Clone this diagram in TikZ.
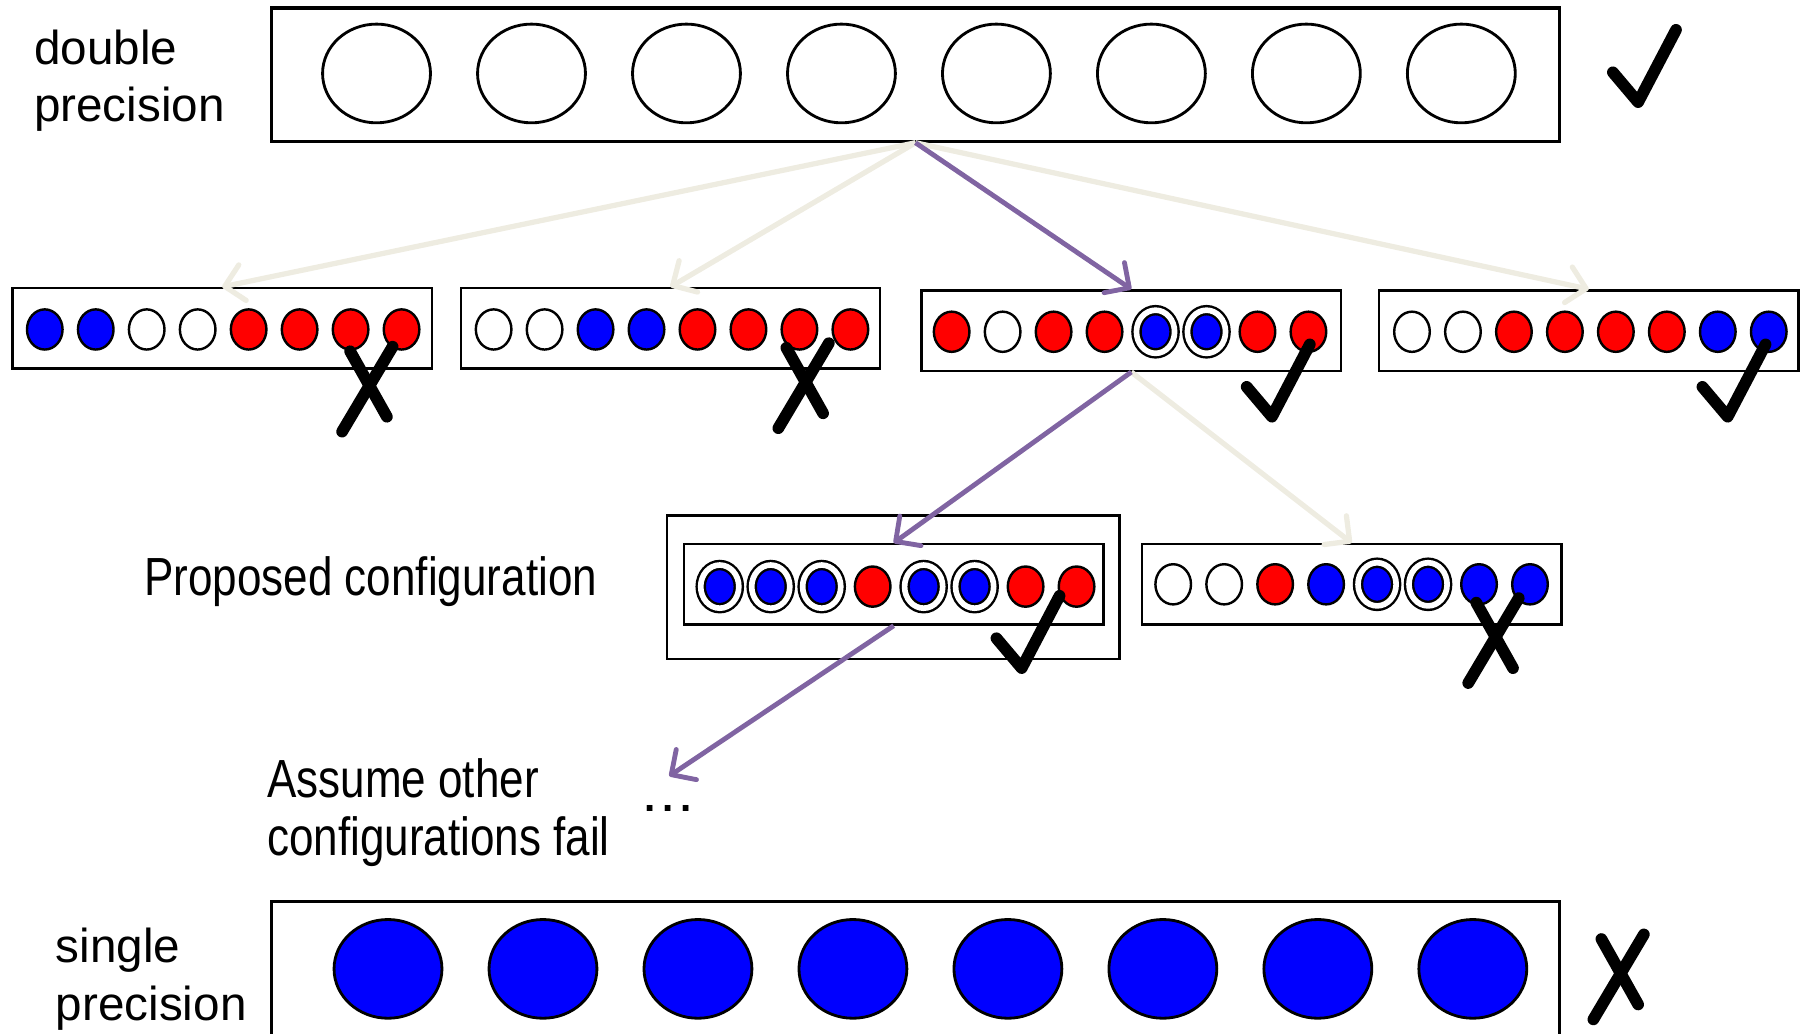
\documentclass[tikz,border=0pt]{standalone}
\usepackage{fontspec}
\setmainfont{Liberation Sans}
\newfontfamily\narrowfont[FakeStretch=0.82]{Liberation Sans}
\definecolor{flowpurple}{RGB}{128,100,162}
\definecolor{flowtan}{RGB}{238,236,225}
\definecolor{bitred}{RGB}{255,0,0}
\definecolor{bitblue}{RGB}{0,0,255}
\usetikzlibrary{arrows.meta}

% one row of eight precision bits: first x, y, list of bit styles
\newcommand{\bitrow}[3]{%
  \foreach \b [count=\i from 0] in {#3}
    \draw[\b] (#1+44.4*\i,#2) ellipse [];}

\tikzset{
  regbox/.style={draw, fill=white, line width=0.6pt, inner sep=0pt,
    minimum width=3.65cm, minimum height=0.7cm},
  bitline/.style={draw=black, line width=0.6pt},
  wb/.style={bitline, fill=white, x radius=15.5, y radius=17.5},
  rb/.style={bitline, fill=bitred, x radius=15.5, y radius=17.5},
  bb/.style={bitline, fill=bitblue, x radius=15.5, y radius=17.5},
  sb/.style={bitline, fill=bitblue, double, double distance=1.4pt,
    x radius=16.6, y radius=18.8},
  bigbit/.style={draw=black, line width=0.7pt, x radius=47, y radius=43},
  penstroke/.style={line width=2.9pt, line cap=round, line join=round},
  okmark/.pic={\draw[penstroke] (-22,-26) -- (0,0) -- (33,-63);},
  failmark/.pic={\draw[penstroke] (-15,-32) -- (17,25);
    \draw[penstroke] (22,-36) -- (-22,38);},
  tanarrow/.style={draw=flowtan, line width=1.3pt,
    -{Straight Barb[length=4.5pt,width=9pt,round]}},
  purplearrow/.style={draw=flowpurple, line width=1.2pt,
    -{Straight Barb[length=4.5pt,width=9pt,round]}},
  label/.style={inner sep=0pt, anchor=west, align=left,
    font=\fontsize{11.8}{14.2}\selectfont},
  narrowlabel/.style={inner sep=0pt, anchor=west, align=left,
    font=\narrowfont\fontsize{13.3}{14.2}\selectfont}
}

\begin{document}
\begin{tikzpicture}[x=0.01cm, y=-0.01cm]
    \useasboundingbox (0,0) rectangle (1568,900);

    % search tree: full double precision first
    \node[regbox, line width=0.75pt, minimum width=11.21cm, minimum height=1.16cm] (dbl) at (797.5,65) {};
    \foreach \i in {0,...,7}
        \draw[bigbit, fill=white] (328+135*\i,64) ellipse [];
    \node[label] (dbllabel) at (29,70) {double\\precision};
    \path (1427,89) pic {okmark};

    % first level of mixed configurations
    \node[regbox] (cfga) at (193.5,286) {};
    \node[regbox] (cfgb) at (584,286) {};
    \node[regbox] (cfgc) at (985.5,288) {};
    \node[regbox] (cfgd) at (1384,288) {};

    \draw[tanarrow] (dbl.south) -- (cfga.north);
    \draw[tanarrow] (dbl.south) -- (cfgb.north);
    \draw[tanarrow] (dbl.south) -- (cfgd.north);
    \draw[purplearrow] (dbl.south) -- (cfgc.north);

    \bitrow{39}{287}{bb,bb,wb,wb,rb,rb,rb,rb}
    \bitrow{430}{287}{wb,wb,bb,bb,rb,rb,rb,rb}
    \bitrow{829}{289}{rb,wb,rb,rb,sb,sb,rb,rb}
    \bitrow{1230}{289}{wb,wb,rb,rb,rb,rb,bb,bb}

    \path (320,338) pic {failmark};
    \path (700,335) pic {failmark};
    \path (1108,363) pic {okmark};
    \path (1505,363) pic {okmark};

    % second level
    \node[regbox, minimum width=3.94cm, minimum height=1.25cm] (chosen) at (778,511.5) {};
    \node[regbox] (cfge) at (778.5,509) {};
    \node[regbox] (cfgf) at (1177.5,509) {};
    \node[narrowlabel] (chosenlabel) at (125,507) {Proposed configuration};

    \draw[tanarrow] (cfgc.south) -- (cfgf.north);
    \draw[purplearrow] (cfgc.south) -- (cfge.north);

    \bitrow{627}{511}{sb,sb,sb,rb,sb,sb,rb,rb}
    \bitrow{1022}{509}{wb,wb,rb,bb,sb,sb,bb,bb}

    \path (890,582) pic {okmark};
    \path (1301,557) pic {failmark};

    % remaining search
    \coordinate (more) at (583,676);
    \draw[purplearrow] (cfge.south) -- (more);
    \node[narrowlabel] (restlabel) at (232,708) {Assume other\\configurations fail};
    \node[narrowlabel, font=\bfseries] (dots) at (561,704) {.\,.\,.};

    % full single precision
    \node[regbox, line width=0.75pt, minimum width=11.21cm, minimum height=1.3cm] (sgl) at (797.5,850) {};
    \foreach \i in {0,...,7}
        \draw[bigbit, fill=bitblue] (338+135*\i,844) ellipse [];
    \node[label] (sgllabel) at (48,853) {single\\precision};
    \path (1410,850) pic {failmark};
\end{tikzpicture}
\end{document}
